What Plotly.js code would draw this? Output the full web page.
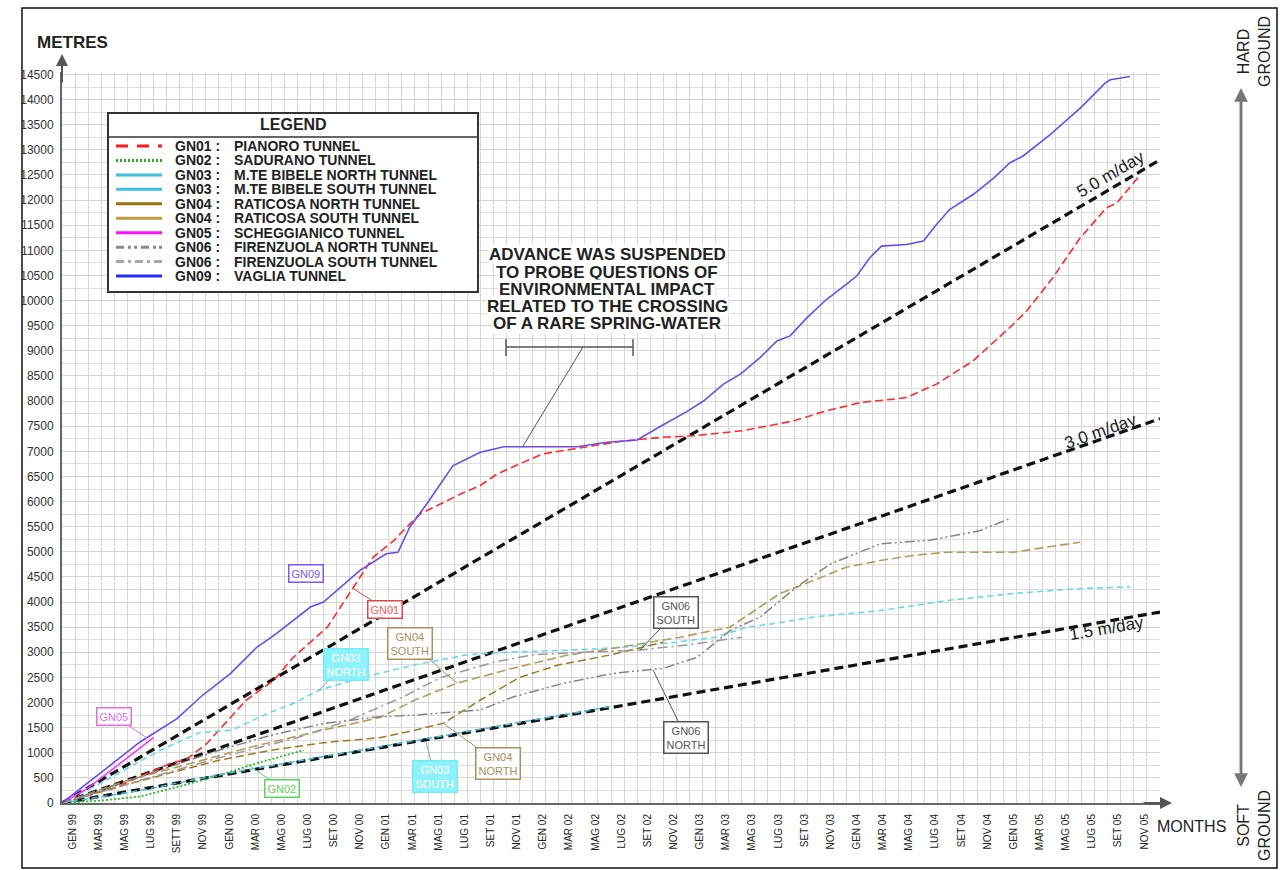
<!DOCTYPE html>
<html><head><meta charset="utf-8">
<script src="https://cdn.plot.ly/plotly-3.0.1.min.js"></script>
<style>html,body{margin:0;padding:0;background:#fff}#chart{width:1280px;height:870px}</style>
</head><body><div id="chart"></div>
<script>
// ---------- DATA ----------
const tickMonths = [0,2,4,6,8,10,12,14,16,18,20,22,24,26,28,30,32,34,36,38,40,42,44,46,48,50,52,54,56,58,60,62,64,66,68,70,72,74,76,78,80,82];
const tickLabels = ["GEN 99","MAR 99","MAG 99","LUG 99","SETT 99","NOV 99","GEN 00","MAR 00","MAG 00","LUG 00","SET 00","NOV 00",
  "GEN 01","MAR 01","MAG 01","LUG 01","SET 01","NOV 01","GEN 02","MAR 02","MAG 02","LUG 02","SET 02","NOV 02",
  "GEN 03","MAR 03","MAG 03","LUG 03","SET 03","NOV 03","GEN 04","MAR 04","MAG 04","LUG 04","SET 04","NOV 04",
  "GEN 05","MAR 05","MAG 05","LUG 05","SET 05","NOV 05"];

const gn01Month  = [0,4,8.3,9.5,11.1,14.1,16.2,17.7,20.3,22.3,23.8,25.4,26.1,27.4,28.7,30.5,32,33.3,35,36.8,39.1,40.7,42.7,45.8,48.3,52.1,56,58.5,61.1,63.6,64.6,66.9,69.7,72.5,73.8,75.8,77.9,79.9,80.7,82.5];
const gn01Metres = [0,300,790,860,1190,2050,2440,2900,3500,4300,4890,5225,5420,5755,5920,6150,6320,6550,6750,6950,7046,7112,7197,7277,7310,7410,7608,7807,7972,8039,8072,8337,8800,9462,9793,10455,11250,11846,11945,12508];

const gn02Month  = [0,3,6,9,12,15,18.5];
const gn02Metres = [0,50,130,330,550,800,1050];

const gn03nMonth  = [0,3,7.5,10.5,13,15.7,17.7,19.7,23,27,31,34,38.6,43,47,50,52.4,54.4,57.5,62.6,67.7,72.8,77.9,81.7];
const gn03nMetres = [0,400,1050,1400,1450,1780,1980,2250,2500,2750,2950,3000,3040,3100,3200,3300,3500,3570,3700,3830,4030,4170,4270,4300];

const gn03sMonth  = [0,6,12,18,24,30,36,42];
const gn03sMetres = [0,250,560,830,1100,1380,1650,1920];

const gn04nMonth  = [0,4,8,12,16,20,24.3,27,29.2,32,35,38,42,46];
const gn04nMetres = [0,300,580,850,1050,1200,1300,1450,1590,2050,2500,2750,2950,3200];

const gn04sMonth  = [0,5,10,15,20,24.3,27,30.2,34.5,38.6,42.2,47.3,51.1,54.9,57.5,60,62.6,65.1,67.7,72.8,75.3,77.9];
const gn04sMetres = [0,450,800,1150,1450,1700,2050,2384,2682,2940,3080,3300,3500,4166,4430,4694,4827,4927,4992,4992,5092,5191];

const gn05Month  = [0,2,4,6,7];
const gn05Metres = [0,300,700,1100,1300];

const gn06nMonth  = [0,4,8,12,16,20,24,27,32,34.5,38.3,42.2,46,48.6,51.1,53.4,56.2,58.8,62.6,66.4,70.2,72.5];
const gn06nMetres = [0,350,700,1050,1350,1580,1710,1750,1850,2110,2380,2580,2680,2900,3430,3700,4300,4760,5160,5230,5420,5660];

const gn06sMonth  = [0,6,12,18,22,26,29,33,36,40,44,48,52];
const gn06sMetres = [0,450,900,1300,1650,2100,2500,2800,2950,3000,3040,3150,3300];

const gn09Month  = [0,3.2,6,8.8,10.6,12.9,14.9,16.4,19,20,22.8,24.8,25.7,26.6,27.9,29.9,32,33.8,39.4,41.7,44,45.8,47.8,49.1,50.6,51.9,53.4,54.7,55.7,57,58.5,60,60.8,61.8,62.7,64.6,65.9,66.9,67.9,69.7,71.3,72.5,73.5,75.6,77.9,79.8,80.2,81.7];
const gn09Metres = [0,660,1220,1680,2110,2580,3100,3370,3900,4000,4630,4960,4990,5490,5950,6710,6980,7090,7090,7180,7225,7500,7790,8006,8337,8536,8866,9198,9297,9660,10026,10324,10489,10853,11085,11118,11184,11516,11813,12111,12442,12740,12873,13303,13832,14329,14396,14462];

const rateLabels = ["5.0 m/day","3.0 m/day","1.5 m/day"];
const rateEndMonth = 84;
const rateEndMetres = [12800, 7650, 3800];

const legendCodes = ["GN01","GN02","GN03","GN03","GN04","GN04","GN05","GN06","GN06","GN09"];
const legendNames = ["PIANORO TUNNEL","SADURANO TUNNEL","M.TE BIBELE NORTH TUNNEL","M.TE BIBELE SOUTH TUNNEL",
  "RATICOSA NORTH TUNNEL","RATICOSA SOUTH TUNNEL","SCHEGGIANICO TUNNEL","FIRENZUOLA NORTH TUNNEL",
  "FIRENZUOLA SOUTH TUNNEL","VAGLIA TUNNEL"];

const noteLines = ["ADVANCE WAS SUSPENDED","TO PROBE QUESTIONS OF","ENVIRONMENTAL IMPACT","RELATED TO THE CROSSING","OF A RARE SPRING-WATER"];

// ---------- STYLE / GEOMETRY ----------
const W = 1280, H = 870;
const L = 62, R = 1160, T = 72, B = 803;
const XR = [0, 84], YR = [0, 14550];
const PX = (px) => (px - L) / (R - L);
const PY = (py) => (B - py) / (B - T);
const DX = (px) => XR[0] + (px - L) / (R - L) * (XR[1] - XR[0]);
const DY = (py) => YR[0] + (B - py) / (B - T) * (YR[1] - YR[0]);
const FONT = "Liberation Sans, Arial, sans-serif";

const series = [
  {m: gn01Month,  v: gn01Metres,  color: "#ff2a2a", dash: "8px,4px", width: 1.6},
  {m: gn02Month,  v: gn02Metres,  color: "#22bb22", dash: "2px,2px", width: 1.8},
  {m: gn03nMonth, v: gn03nMetres, color: "#5fd8e8", dash: "6px,4px", width: 1.5},
  {m: gn03sMonth, v: gn03sMetres, color: "#40c0dc", dash: "6px,4px", width: 1.5},
  {m: gn04nMonth, v: gn04nMetres, color: "#a07a20", dash: "8px,4px", width: 1.5},
  {m: gn04sMonth, v: gn04sMetres, color: "#b89a5a", dash: "9px,4px", width: 1.6},
  {m: gn05Month,  v: gn05Metres,  color: "#ff30ff", dash: "solid",   width: 1.5},
  {m: gn06nMonth, v: gn06nMetres, color: "#858585", dash: "10px,3px,2px,3px,2px,3px", width: 1.5},
  {m: gn06sMonth, v: gn06sMetres, color: "#9a9a9a", dash: "10px,4px,2px,4px", width: 1.5},
  {m: gn09Month,  v: gn09Metres,  color: "#6a4cf0", dash: "solid",   width: 1.6}
];
const legendStyle = [
  {color:"#ff1a1a", dash:"12px,9px"}, {color:"#1fb01f", dash:"2px,2px"},
  {color:"#3ec0dc", dash:"solid"}, {color:"#3ec0dc", dash:"solid"},
  {color:"#9a7010", dash:"solid"}, {color:"#c09a40", dash:"solid"},
  {color:"#ff10ff", dash:"solid"}, {color:"#8a8a8a", dash:"8px,4px,3px,3px,3px,4px"},
  {color:"#a8a8a8", dash:"8px,4px,3px,4px"}, {color:"#2a2aff", dash:"solid"}
];

const traces = [];
rateEndMetres.forEach((e) => {
  traces.push({x:[0, rateEndMonth], y:[0, e], mode:"lines", showlegend:false, hoverinfo:"skip",
    line:{color:"#111", width:3.2, dash:"9px,5px"}});
});
series.forEach((s) => {
  traces.push({x:s.m, y:s.v, mode:"lines", showlegend:false, hoverinfo:"skip",
    line:{color:s.color, width:s.width, dash:s.dash, shape:"linear"}});
});
traces.push({x:[0], y:[0], xaxis:"x2", mode:"markers", marker:{opacity:0}, showlegend:false, hoverinfo:"skip"});

const shapes = [];
const annotations = [];
const pAnn = (o) => Object.assign({xref:"paper", yref:"paper", xanchor:"center", yanchor:"middle", showarrow:false}, o);

shapes.push({type:"rect", xref:"paper", yref:"paper", x0:PX(22), x1:PX(1277), y0:PY(8), y1:PY(868),
  line:{color:"#111", width:1.5}, layer:"below"});

shapes.push({type:"rect", xref:"paper", yref:"paper", x0:PX(108), x1:PX(478), y0:PY(292), y1:PY(113),
  line:{color:"#333", width:2}, fillcolor:"#fff", layer:"above"});
shapes.push({type:"line", xref:"paper", yref:"paper", x0:PX(108), x1:PX(478), y0:PY(137), y1:PY(137),
  line:{color:"#333", width:1.5}});
annotations.push(pAnn({x:PX(293), y:PY(125), text:"<b>LEGEND</b>", font:{family:FONT, size:16, color:"#222"}}));
legendCodes.forEach((c, i) => {
  const py = 146 + i * 14.45;
  shapes.push({type:"line", xref:"paper", yref:"paper", x0:PX(116), x1:PX(162), y0:PY(py), y1:PY(py),
    line:{color:legendStyle[i].color, width:3, dash:legendStyle[i].dash}});
  annotations.push(pAnn({x:PX(173), y:PY(py), xanchor:"left",
    text:"<b>" + c + " :</b>", font:{family:FONT, size:14, color:"#222"}}));
  annotations.push(pAnn({x:PX(232), y:PY(py), xanchor:"left",
    text:"<b>" + legendNames[i] + "</b>", font:{family:FONT, size:14, color:"#222"}}));
});

noteLines.forEach((t, i) => {
  annotations.push(pAnn({x:PX(607), y:PY(255 + i * 17), text:"<b>" + t + "</b>",
    font:{family:FONT, size:17, color:"#222"}, bgcolor:"#fff", borderpad:0}));
});
shapes.push({type:"line", x0:DX(506), x1:DX(633), y0:DY(347), y1:DY(347), line:{color:"#555", width:1.5}});
shapes.push({type:"line", x0:DX(506), x1:DX(506), y0:DY(339), y1:DY(356), line:{color:"#555", width:1.5}});
shapes.push({type:"line", x0:DX(633), x1:DX(633), y0:DY(339), y1:DY(356), line:{color:"#555", width:1.5}});
shapes.push({type:"line", x0:DX(583), x1:DX(523), y0:DY(347), y1:DY(446), line:{color:"#555", width:1}});

const rateLabelPos = [[1110,174,-30.4],[1100,431,-19.3],[1106,628,-9.9]];
rateLabels.forEach((t, i) => {
  const p = rateLabelPos[i];
  annotations.push({x:DX(p[0]), y:DY(p[1]), text:t, showarrow:false, textangle:p[2],
    xanchor:"center", yanchor:"middle", font:{family:FONT, size:17, color:"#222"}});
});

const tags = [
  {t:"GN09", c:[306,573], tip:null, col:"#7a5af0", bg:"rgba(255,255,255,0.9)", fc:"#7a5af0"},
  {t:"GN01", c:[385,609], tip:[354,589], col:"#e04848", bg:"rgba(255,255,255,0.9)", fc:"#e86060"},
  {t:"GN05", c:[114,716], tip:[147,738], col:"#e070e0", bg:"rgba(255,255,255,0.9)", fc:"#e070e0"},
  {t:"GN03<br>NORTH", c:[346,664], tip:[319,690], col:"#70eef8", bg:"#8ff2fa", fc:"#fff"},
  {t:"GN04<br>SOUTH", c:[410,643], tip:[457,683], col:"#a89060", bg:"rgba(255,255,255,0.9)", fc:"#a89060"},
  {t:"GN06<br>SOUTH", c:[676,612], tip:[640,650], col:"#555", bg:"rgba(255,255,255,0.9)", fc:"#555"},
  {t:"GN06<br>NORTH", c:[686,737], tip:[653,670], col:"#555", bg:"rgba(255,255,255,0.9)", fc:"#555"},
  {t:"GN04<br>NORTH", c:[498,763], tip:[443,723], col:"#a89060", bg:"rgba(255,255,255,0.9)", fc:"#a89060"},
  {t:"GN03<br>SOUTH", c:[435,776], tip:[426,742], col:"#70eef8", bg:"#8ff2fa", fc:"#fff"},
  {t:"GN02", c:[282,788], tip:[247,764], col:"#60d060", bg:"rgba(255,255,255,0.9)", fc:"#60d060"}
];
tags.forEach((g) => {
  const a = {text:g.t, font:{family:FONT, size:11, color:g.fc}, bgcolor:g.bg, bordercolor:g.col,
    borderwidth:1.5, borderpad:2, align:"center", xanchor:"center", yanchor:"middle"};
  if (g.tip) {
    Object.assign(a, {x:DX(g.tip[0]), y:DY(g.tip[1]), ax:DX(g.c[0]), ay:DY(g.c[1]), axref:"x", ayref:"y",
      showarrow:true, arrowhead:0, arrowwidth:1, arrowcolor:g.col === "#70eef8" ? "#8ab" : g.col});
  } else {
    Object.assign(a, {x:DX(g.c[0]), y:DY(g.c[1]), showarrow:false});
  }
  annotations.push(a);
});

annotations.push({xref:"paper", yref:"paper", x:PX(62), y:PY(54), ax:0, ay:30, text:"", showarrow:true,
  arrowhead:2, arrowsize:1.2, arrowwidth:2, arrowcolor:"#555"});
annotations.push({xref:"paper", yref:"paper", x:PX(1172), y:PY(803), ax:-30, ay:0, text:"", showarrow:true,
  arrowhead:2, arrowsize:1.2, arrowwidth:2, arrowcolor:"#555"});
annotations.push({xref:"paper", yref:"paper", x:PX(1241), y:PY(88), ax:0, ay:697, text:"", showarrow:true,
  arrowhead:2, arrowsize:1.1, arrowwidth:2.5, arrowcolor:"#777"});
annotations.push({xref:"paper", yref:"paper", x:PX(1241), y:PY(787), ax:0, ay:-697, text:"", showarrow:true,
  arrowhead:2, arrowsize:1.1, arrowwidth:2.5, arrowcolor:"#777"});
annotations.push(pAnn({x:PX(1254), y:PY(52), text:"HARD<br>GROUND", textangle:-90,
  font:{family:FONT, size:16, color:"#222"}}));
annotations.push(pAnn({x:PX(1254), y:PY(826), text:"SOFT<br>GROUND", textangle:-90,
  font:{family:FONT, size:16, color:"#222"}}));
annotations.push(pAnn({x:PX(72), y:PY(43), text:"<b>METRES</b>", font:{family:FONT, size:17, color:"#222"}}));
annotations.push(pAnn({x:PX(1191), y:PY(826), text:"MONTHS", font:{family:FONT, size:16, color:"#222"}}));

const layout = {
  width: W, height: H,
  margin: {l: L, r: W - R, t: T, b: H - B},
  paper_bgcolor: "#fff", plot_bgcolor: "#fff",
  showlegend: false,
  xaxis: {range: XR, dtick: 1, tick0: 0, showgrid: true, gridcolor: "#d6d6d6", gridwidth: 1,
    showticklabels: false, ticks: "", zeroline: false, showline: true, linecolor: "#666", linewidth: 2},
  xaxis2: {overlaying: "x", matches: "x", anchor: "y", side: "bottom", tickmode: "array",
    tickvals: tickMonths.map((m) => m + 0.8), ticktext: tickLabels, tickangle: -90, showgrid: false,
    zeroline: false, showline: false, ticks: "", ticklabelstandoff: 8,
    tickfont: {family: FONT, size: 10, color: "#222"}},
  yaxis: {range: YR, dtick: 500, tick0: 0, tickformat: "d", showgrid: true, gridcolor: "#d6d6d6", gridwidth: 1,
    minor: {dtick: 250, showgrid: true, gridcolor: "#dedede", gridwidth: 1},
    zeroline: false, showline: true, linecolor: "#666", linewidth: 2, ticks: "",
    ticklabelstandoff: 4, tickfont: {family: FONT, size: 12, color: "#333"}},
  shapes: shapes,
  annotations: annotations
};

Plotly.newPlot("chart", traces, layout, {staticPlot: true, displayModeBar: false});
</script></body></html>
